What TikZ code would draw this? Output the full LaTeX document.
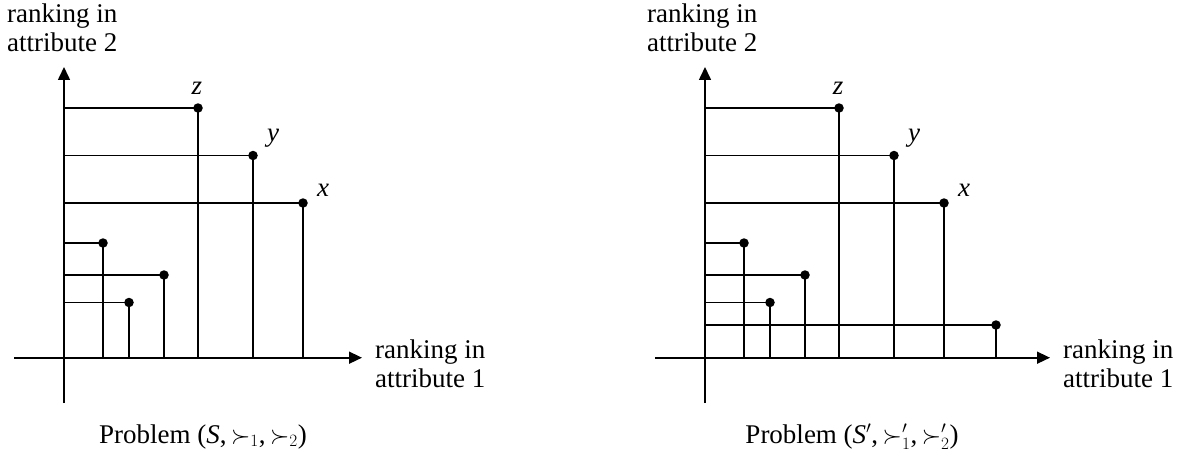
\documentclass[tikz,border=0pt]{standalone}
\usepackage{fontspec}
\setmainfont{Liberation Serif}
\usetikzlibrary{arrows.meta}
\tikzset{
  axis/.style={line width=1.6pt, -{Triangle[length=13pt,width=12pt]}},
  plain/.style={line width=1.6pt},
  pt/.style={circle, fill=black, inner sep=0pt, minimum size=9.5pt},
  lab/.style={inner sep=0pt, font=\fontsize{27}{29}\selectfont},
  axlab/.style={lab, align=left, anchor=north west},
}
\begin{document}
\begin{tikzpicture}[x=1pt,y=-1pt]
\useasboundingbox (0,0) rectangle (1181,460);
% ---------- left diagram ----------
\coordinate (Lo) at (64,357.7);
\coordinate (Lxs) at (14,357.7);
\coordinate (Lxe) at (362,357.7);
\coordinate (Lys) at (64,403);
\coordinate (Lye) at (64,67);
\draw[axis] (Lxs) -- (Lxe);
\draw[axis] (Lys) -- (Lye);
\node[pt] (Lz) at (198,108) {};
\node[pt] (Ly) at (253,155.5) {};
\node[pt] (Lx) at (303,203) {};
\node[pt] (La) at (103,243) {};
\node[pt] (Lb) at (164,275) {};
\node[pt] (Lc) at (129,302.5) {};
\foreach \p in {Lz,Ly,Lx,La,Lb,Lc}{
  \draw[plain] (\p.center) -- (\p.center -| Lo);
  \draw[plain] (\p.center) -- (\p.center |- Lo);
}
\node[lab, anchor=base] (Llz) at (197,95) {\textit{z}};
\node[lab, anchor=base] (Lly) at (273,141) {\textit{y}};
\node[lab, anchor=base] (Llx) at (323,196) {\textit{x}};
\node[axlab] (Ltop) at (7,4) {ranking in\\attribute 2};
\node[axlab] (Lright) at (375,340) {ranking in\\attribute 1};
\node[lab, anchor=base] (Lcap) at (203,443) {Problem (\textit{S},\,$\succ_1$,\,$\succ_2$)};
% ---------- right diagram ----------
\coordinate (Ro) at (705,357.7);
\coordinate (Rxs) at (655,357.7);
\coordinate (Rxe) at (1050,357.7);
\coordinate (Rys) at (705,403);
\coordinate (Rye) at (705,67);
\draw[axis] (Rxs) -- (Rxe);
\draw[axis] (Rys) -- (Rye);
\node[pt] (Rz) at (839,108) {};
\node[pt] (Ry) at (894,155.5) {};
\node[pt] (Rx) at (944,203) {};
\node[pt] (Ra) at (744,243) {};
\node[pt] (Rb) at (805,275) {};
\node[pt] (Rc) at (770,302.5) {};
\node[pt] (Rd) at (996,325) {};
\foreach \p in {Rz,Ry,Rx,Ra,Rb,Rc,Rd}{
  \draw[plain] (\p.center) -- (\p.center -| Ro);
  \draw[plain] (\p.center) -- (\p.center |- Ro);
}
\node[lab, anchor=base] (Rlz) at (838,95) {\textit{z}};
\node[lab, anchor=base] (Rly) at (914,141) {\textit{y}};
\node[lab, anchor=base] (Rlx) at (964,196) {\textit{x}};
\node[axlab] (Rtop) at (647,4) {ranking in\\attribute 2};
\node[axlab] (Rright) at (1063,340) {ranking in\\attribute 1};
\node[lab, anchor=base] (Rcap) at (852,443) {Problem (\textit{S}$'$,\,$\succ_1'$,\,$\succ_2'$)};
\end{tikzpicture}
\end{document}
